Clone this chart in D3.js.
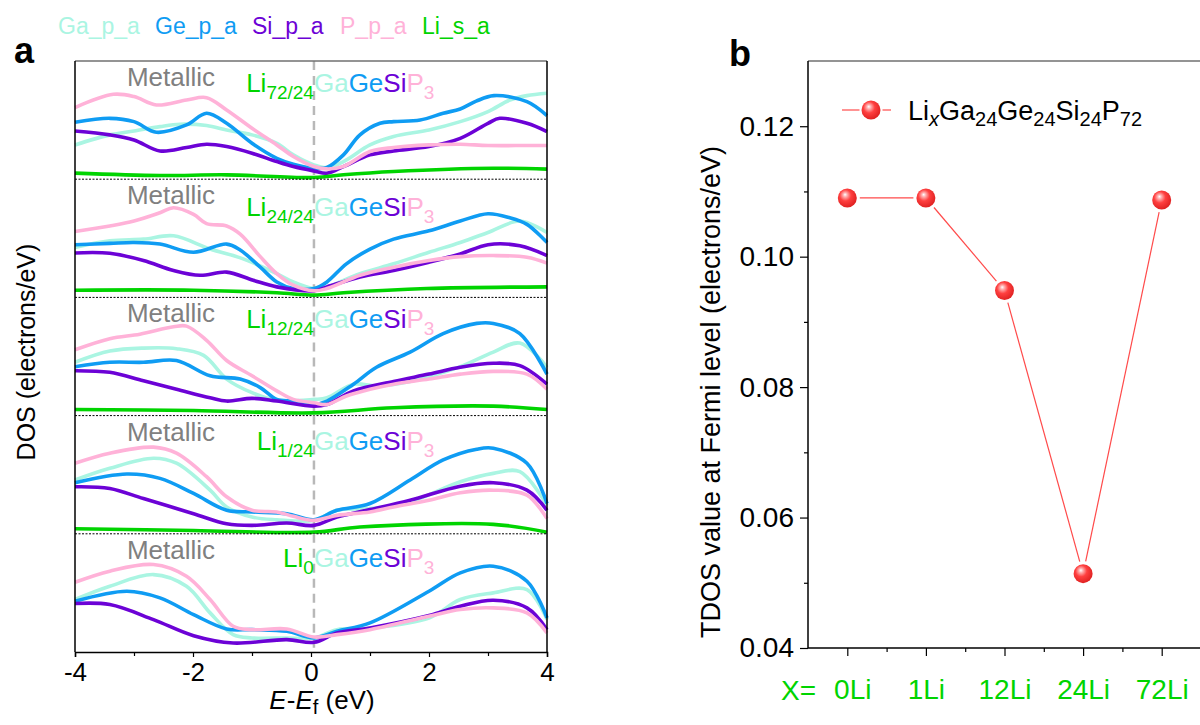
<!DOCTYPE html>
<html><head><meta charset="utf-8">
<script src="https://cdn.jsdelivr.net/npm/d3@7"></script>
<style>body{margin:0;background:#fff}svg{display:block;font-family:"Liberation Sans",Arial,sans-serif}</style>
</head><body><svg id="c" width="1200" height="725"></svg>
<script>
// ---------- Panel a data (E in eV, DOS in arbitrary units per sub-panel) ----------
const seriesNames = ["Ga_p_a","Ge_p_a","Si_p_a","P_p_a","Li_s_a"];
const seriesColors = ["#aaf5e2","#0f9cf3","#6c02d6","#ffb2d8","#00d400"];
const panelSub = ["72/24","24/24","12/24","1/24","0"];
const energyTicks = [-4,-2,0,2,4];

const ga72 = [[-4,2.90],[-3.41,3.75],[-3,4.08],[-2.56,4.45],[-2.22,4.65],[-1.77,4.54],[-1.43,4.17],[-1,3.75],[-0.58,3.04],[-0.3,2.06],[0.05,1.21],[0.27,0.98],[0.55,1.49],[1,2.90],[1.4,3.61],[2,4.17],[2.53,4.87],[3,5.72],[3.37,6.70],[3.66,7.07],[4,7.27]];
const ge72 = [[-4,4.82],[-3.41,5.15],[-3,4.87],[-2.62,3.97],[-2.11,4.59],[-1.77,5.58],[-1.43,4.73],[-1,3.04],[-0.58,1.77],[-0.3,1.27],[0.05,0.93],[0.27,0.99],[0.55,2.06],[0.83,3.75],[1.17,4.73],[1.4,4.87],[1.85,5.01],[2.24,5.58],[2.53,5.94],[2.8,6.6],[3.1,7.07],[3.66,6.56],[4,5.38]];
const si72 = [[-4,4.08],[-3.41,3.75],[-3,3.32],[-2.56,2.39],[-2.11,2.68],[-1.77,2.96],[-1.43,2.76],[-1,2.20],[-0.58,1.49],[-0.3,1.07],[0.05,0.70],[0.27,0.51],[0.55,1.07],[1,2.06],[1.4,2.39],[2,2.76],[2.53,3.46],[3,4.73],[3.2,5.15],[3.66,4.73],[4,4.03]];
const p72 = [[-4,6.06],[-3.35,7.18],[-3,6.99],[-2.62,6.28],[-2.11,6.70],[-1.77,6.90],[-1.43,5.86],[-1,4.31],[-0.58,2.90],[-0.3,1.92],[0.05,1.07],[0.27,0.87],[0.55,1.07],[1,2.34],[1.4,2.68],[2,2.90],[2.53,2.96],[3,2.85],[3.66,2.85],[4,2.85]];
const li72 = [[-4,0.51],[-2.56,0.31],[-1.43,0.37],[0.05,0.14],[0.55,0.37],[1.4,0.65],[3.09,0.93],[4,0.85]];

const ga24 = [[-4,4.23],[-3.41,4.79],[-2.84,4.93],[-2.33,5.21],[-1.71,4.09],[-1.15,3.26],[-0.58,2.01],[-0.3,1.31],[0.05,0.75],[0.27,0.89],[0.83,2.01],[1.4,2.84],[2,3.82],[2.53,4.65],[3,5.49],[3.54,6.46],[4,5.49]];
const ge24 = [[-4,4.46],[-3.41,4.57],[-3,4.65],[-2.56,4.51],[-1.99,3.82],[-1.43,4.51],[-1.2,4.01],[-0.86,2.56],[-0.58,1.31],[-0.3,0.75],[0.05,0.75],[0.27,1.31],[0.6,2.84],[1,4.09],[1.4,4.93],[2,5.63],[2.53,6.46],[3,7.08],[3.37,6.74],[3.66,6.18],[4,4.65]];
const si24 = [[-4,3.76],[-3.41,3.73],[-2.84,3.12],[-2.33,2.28],[-1.88,1.87],[-1.43,2.14],[-0.98,1.45],[-0.58,0.89],[0.05,0.56],[0.27,0.89],[0.83,1.73],[1.4,2.28],[2,2.98],[2.53,3.68],[3,4.46],[3.54,4.37],[4,3.54]];
const p24 = [[-4,5.57],[-3.41,6.04],[-3,6.46],[-2.56,7.16],[-2.33,7.58],[-1.99,7.02],[-1.77,6.24],[-1.43,6.04],[-1.2,5.35],[-0.86,3.45],[-0.58,2.01],[-0.3,1.03],[0.05,0.56],[0.27,0.75],[0.83,1.87],[1.4,2.56],[2,3.12],[2.53,3.45],[3.09,3.54],[3.66,3.40],[4,2.90]];
const li24 = [[-4,0.61],[-1.99,0.61],[-0.58,0.39],[0.05,0.19],[0.55,0.39],[1.96,0.75],[4,0.89]];

const ga12 = [[-4,4.51],[-3.41,5.46],[-2.84,5.71],[-2.28,5.66],[-1.82,5.09],[-1.43,3.09],[-1,1.94],[-0.58,1.29],[0.05,1.37],[0.27,1.51],[0.72,2.66],[1.11,2.51],[1.68,2.89],[2.53,4.14],[3.09,5.37],[3.54,6.14],[4,4.09]];
const ge12 = [[-4,4.14],[-3.41,4.51],[-2.84,4.51],[-2.28,4.66],[-1.71,3.37],[-1.2,3.09],[-0.86,2.37],[-0.58,1.37],[-0.3,1.23],[0.05,0.94],[0.27,1.23],[0.72,2.66],[1.11,4.09],[1.68,5.37],[2.24,6.94],[2.81,7.80],[3.09,7.80],[3.54,6.94],[4,3.51]];
const si12 = [[-4,3.80],[-3.41,3.66],[-2.84,2.94],[-2.28,2.23],[-1.71,1.51],[-1.43,1.23],[-1,1.46],[-0.58,1.23],[0.05,0.80],[0.27,0.94],[0.72,2.09],[1.4,2.89],[2,3.51],[2.53,4.09],[3.09,4.43],[3.54,4.23],[4,2.66]];
const p12 = [[-4,5.57],[-3.41,6.51],[-2.9,6.89],[-2.33,7.51],[-2.11,7.57],[-1.77,6.37],[-1.43,4.66],[-1,3.37],[-0.58,2.09],[-0.3,1.37],[0.05,1.09],[0.27,0.94],[0.6,1.66],[1,2.23],[1.4,2.66],[2,3.09],[2.53,3.51],[3.09,3.74],[3.66,3.51],[4,2.23]];
const li12 = [[-4,0.51],[-1.99,0.43],[0.05,0.23],[1.4,0.66],[3.09,0.80],[4,0.51]];

const ga1 = [[-4,4.55],[-3.41,5.54],[-2.67,6.39],[-2.28,5.97],[-1.71,3.69],[-1.43,2.27],[-1,1.42],[-0.58,1.19],[0.05,1.14],[0.44,1.99],[1,2.13],[1.68,2.70],[2.53,4.40],[3.09,5.11],[3.54,5.26],[4,2.41]];
const ge1 = [[-4,4.32],[-3.12,5.06],[-2.56,4.69],[-1.99,3.41],[-1.43,1.99],[-1,1.85],[-0.41,1.70],[0.05,1.19],[0.44,1.99],[1,2.56],[1.68,4.55],[2.24,6.25],[2.81,7.16],[3.09,7.24],[3.66,5.97],[4,2.56]];
const si1 = [[-4,3.98],[-3.41,3.84],[-2.84,2.98],[-1.99,1.70],[-1.43,0.85],[-1,0.71],[-0.41,0.91],[0.05,0.71],[0.44,1.42],[1,2.05],[1.68,2.84],[2.53,4.03],[3.09,4.32],[3.66,3.69],[4,1.99]];
const p1 = [[-4,5.97],[-3.41,6.82],[-2.67,7.33],[-2.28,6.82],[-1.77,4.83],[-1.43,3.13],[-1,1.99],[-0.58,1.85],[-0.3,1.48],[0.05,1.14],[0.44,1.56],[1,1.85],[1.4,2.27],[2,2.84],[2.53,3.47],[3.09,3.69],[3.66,3.27],[4,1.28]];
const li1 = [[-4,0.43],[-1.99,0.28],[0.05,0.14],[0.83,0.57],[3.09,0.80],[4,0.14]];

const ga0 = [[-4,4.44],[-3.41,5.56],[-2.67,6.55],[-2.11,5.56],[-1.71,3.31],[-1.32,1.47],[-1,1.19],[-0.41,1.19],[0.05,1.19],[0.44,1.89],[1,2.03],[2,2.88],[2.53,4.44],[3.09,5.00],[3.66,5.28],[4,2.74]];
const ge0 = [[-4,4.29],[-3.12,5.14],[-2.56,4.58],[-1.99,3.16],[-1.43,1.95],[-1,1.89],[-0.41,1.75],[0.05,1.19],[0.44,1.75],[1,2.46],[2,5.14],[2.53,6.69],[3.09,7.26],[3.66,5.99],[4,2.88]];
const si0 = [[-4,4.10],[-3.41,4.01],[-2.67,2.74],[-1.99,1.38],[-1.32,0.76],[-0.41,1.05],[0.05,0.82],[0.44,1.61],[1,2.03],[2,3.08],[2.53,3.87],[3.09,4.38],[3.66,3.73],[4,1.89]];
const p0 = [[-4,5.90],[-3.41,6.84],[-2.67,7.40],[-2.11,6.41],[-1.71,4.44],[-1.32,2.18],[-1,1.89],[-0.41,1.95],[0.05,1.27],[0.44,1.47],[1,1.89],[2,3.02],[2.53,3.59],[3.09,3.73],[3.66,3.31],[4,1.61]];

// ---------- Panel b data ----------
const liCounts = ["0Li","1Li","12Li","24Li","72Li"];
const tdosFermi = [0.1090, 0.1090, 0.0948, 0.0514, 0.1087];
const tdosTicks = [0.04,0.06,0.08,0.10,0.12];

const panelSeries = [
  [ga72,ge72,si72,p72,li72],
  [ga24,ge24,si24,p24,li24],
  [ga12,ge12,si12,p12,li12],
  [ga1,ge1,si1,p1,li1],
  [ga0,ge0,si0,p0,null]
];

const svg = d3.select("#c");
const FONT = '"Liberation Sans",Arial,sans-serif';

// ======== Panel a ========
const aL = 75, aR = 547, aT = 61, aB = 652;
const x = d3.scaleLinear().domain([-4,4]).range([aL,aR]);
const bands = d3.scaleBand().domain(d3.range(5)).range([aT,aB]).paddingInner(0).paddingOuter(0);
const ph = bands.bandwidth();

const fermiX = x(0.05);

panelSeries.forEach((ser, i) => {
  const top = bands(i), bot = top + ph;
  const y = d3.scaleLinear().domain([0,10]).range([bot, top]);
  const g = svg.append("g");
  g.append("line").attr("x1",fermiX).attr("x2",fermiX).attr("y1",top).attr("y2",bot)
    .attr("stroke","#b8b8b8").attr("stroke-width",2.5).attr("stroke-dasharray","9,6");
  const line = d3.line().x(d=>x(d[0])).y(d=>y(d[1])).curve(d3.curveCatmullRom.alpha(0.5));
  ser.forEach((s, k) => {
    if (!s) return;
    g.append("path").attr("d", line(s)).attr("fill","none")
      .attr("stroke", seriesColors[k]).attr("stroke-width", 3.6)
      .attr("stroke-linejoin","round").attr("stroke-linecap","butt");
  });
  if (i < 4) {
    svg.append("line").attr("x1",aL).attr("x2",aR).attr("y1",bot).attr("y2",bot)
      .attr("stroke","#000").attr("stroke-width",1).attr("stroke-dasharray","2,1.5");
  }
  g.append("text").attr("x",aL+96).attr("y",top+25).attr("text-anchor","middle")
    .attr("font-size",26).attr("fill","#808080").text("Metallic");
  const fy = top + (i===0?31: i===1?37: i===2?31: i===3?34: 33);
  const liT = g.append("text").attr("x",fermiX).attr("y",fy).attr("text-anchor","end")
    .attr("font-size",26).attr("fill","#00d400");
  liT.append("tspan").text("Li");
  liT.append("tspan").attr("font-size",19).attr("dy",7).text(panelSub[i]);
  const fT = g.append("text").attr("x",fermiX).attr("y",fy).attr("font-size",26);
  fT.append("tspan").attr("fill",seriesColors[0]).text("Ga");
  fT.append("tspan").attr("fill",seriesColors[1]).text("Ge");
  fT.append("tspan").attr("fill",seriesColors[2]).text("Si");
  fT.append("tspan").attr("fill",seriesColors[3]).text("P");
  fT.append("tspan").attr("fill",seriesColors[3]).attr("font-size",19).attr("dy",7).text("3");
});

svg.append("line").attr("x1",aL).attr("x2",aR).attr("y1",aT).attr("y2",aT).attr("stroke","#707070").attr("stroke-width",1.5);
svg.append("line").attr("x1",aL).attr("x2",aL).attr("y1",aT).attr("y2",aB).attr("stroke","#000").attr("stroke-width",1.5);
svg.append("line").attr("x1",aR).attr("x2",aR).attr("y1",aT).attr("y2",aB).attr("stroke","#000").attr("stroke-width",1.5);
const xAxis = svg.append("g").attr("transform",`translate(0,${aB})`)
  .call(d3.axisBottom(x).tickValues(energyTicks).tickSize(5).tickPadding(6).tickFormat(d3.format("d")));
xAxis.select(".domain").attr("stroke","#000").attr("stroke-width",1.5);
xAxis.selectAll(".tick line").attr("stroke","#000").attr("stroke-width",1.2);
xAxis.selectAll("text").attr("font-size",26).attr("font-family",FONT).attr("fill","#000").text(d=>d<0?"-"+Math.abs(d):d);
svg.append("g").attr("transform",`translate(0,${aB})`)
  .call(d3.axisBottom(x).tickValues([-3,-1,1,3]).tickSize(4).tickFormat(""))
  .call(g=>g.select(".domain").remove()).selectAll("line").attr("stroke","#000").attr("stroke-width",1.2);

const xl = svg.append("text").attr("x",322).attr("y",709).attr("text-anchor","middle").attr("font-size",26);
xl.append("tspan").attr("font-style","italic").text("E");
xl.append("tspan").text("-");
xl.append("tspan").attr("font-style","italic").text("E");
xl.append("tspan").attr("font-size",20).attr("dy",5).text("f");
xl.append("tspan").attr("dy",-5).text(" (eV)");
svg.append("text").attr("transform","translate(35,352) rotate(-90)").attr("text-anchor","middle")
  .attr("font-size",25).text("DOS (electrons/eV)");
svg.append("text").attr("x",14).attr("y",63).attr("font-size",36).attr("font-weight","bold").text("a");
const legX = [58,155,252,340,422];
seriesNames.forEach((n,k)=>{
  svg.append("text").attr("x",legX[k]).attr("y",34).attr("font-size",23).attr("fill",seriesColors[k]).text(n);
});

// ======== Panel b ========
const bL = 808, bR = 1201, bT = 61, bB = 648;
const xb = d3.scaleLinear().domain([-0.5,4.5]).range([bL,bR]);
const yb = d3.scaleLinear().domain([0.04,0.13]).range([bB,bT]);

const defs = svg.append("defs");
const rg = defs.append("radialGradient").attr("id","ball").attr("cx","0.42").attr("cy","0.4").attr("r","0.6").attr("fx","0.38").attr("fy","0.32");
rg.append("stop").attr("offset","0").attr("stop-color","#ffffff");
rg.append("stop").attr("offset","0.18").attr("stop-color","#ffb0b0");
rg.append("stop").attr("offset","0.5").attr("stop-color","#ff4040");
rg.append("stop").attr("offset","1").attr("stop-color","#e02222");

svg.append("line").attr("x1",bL).attr("x2",1200).attr("y1",bT).attr("y2",bT).attr("stroke","#707070").attr("stroke-width",1.5);
const yAx = svg.append("g").attr("transform",`translate(${bL},0)`)
  .call(d3.axisLeft(yb).tickValues(tdosTicks).tickSize(8).tickPadding(6).tickFormat(d3.format(".2f")));
yAx.select(".domain").attr("stroke","#000").attr("stroke-width",1.5).attr("d",`M0,${bT}V${bB}`);
yAx.selectAll(".tick line").attr("stroke","#000").attr("stroke-width",1.2);
yAx.selectAll("text").attr("font-size",28).attr("font-family",FONT).attr("fill","#000");
svg.append("g").attr("transform",`translate(${bL},0)`)
  .call(d3.axisLeft(yb).tickValues([0.05,0.07,0.09,0.11]).tickSize(4).tickFormat(""))
  .call(g=>g.select(".domain").remove()).selectAll("line").attr("stroke","#000").attr("stroke-width",1.2);

const xAxB = svg.append("g").attr("transform",`translate(0,${bB})`)
  .call(d3.axisBottom(xb).tickValues(d3.range(5)).tickSize(8).tickPadding(23).tickFormat(i=>liCounts[i]));
xAxB.select(".domain").attr("stroke","#000").attr("stroke-width",1.5).attr("d",`M${bL},0H1200`);
xAxB.selectAll(".tick line").attr("stroke","#000").attr("stroke-width",1.2);
xAxB.selectAll("text").attr("font-size",28).attr("font-family",FONT).attr("fill","#00d400")
  .attr("dx",(d,i)=>i===0?5:0);
svg.append("g").attr("transform",`translate(0,${bB})`)
  .call(d3.axisBottom(xb).tickValues([0.5,1.5,2.5,3.5]).tickSize(4).tickFormat(""))
  .call(g=>g.select(".domain").remove()).selectAll("line").attr("stroke","#000").attr("stroke-width",1.2);
svg.append("text").attr("x",781).attr("y",700).attr("font-size",28).attr("fill","#00d400").text("X=");

const R = 9.5, gap = 3;
const pts = tdosFermi.map((v,i)=>[xb(i), yb(v)]);
for (let i=0;i<pts.length-1;i++){
  const [x1,y1]=pts[i],[x2,y2]=pts[i+1];
  const L = Math.hypot(x2-x1,y2-y1), ux=(x2-x1)/L, uy=(y2-y1)/L, o=R+gap;
  svg.append("line").attr("x1",x1+ux*o).attr("y1",y1+uy*o).attr("x2",x2-ux*o).attr("y2",y2-uy*o)
    .attr("stroke","#ff4a4a").attr("stroke-width",1.2);
}
svg.selectAll("circle.pt").data(tdosFermi).join("circle").attr("class","pt")
  .attr("cx",(d,i)=>xb(i)).attr("cy",d=>yb(d)).attr("r",R).attr("fill","url(#ball)");

const ly = 110, lx = 871;
svg.append("line").attr("x1",842).attr("x2",lx-R-2).attr("y1",ly).attr("y2",ly).attr("stroke","#ff4a4a").attr("stroke-width",1.2);
svg.append("line").attr("x1",lx+R+2).attr("x2",891).attr("y1",ly).attr("y2",ly).attr("stroke","#ff4a4a").attr("stroke-width",1.2);
svg.append("circle").attr("cx",lx).attr("cy",ly).attr("r",R).attr("fill","url(#ball)");
const lt = svg.append("text").attr("x",908).attr("y",120).attr("font-size",27);
lt.append("tspan").text("Li");
lt.append("tspan").attr("font-size",20).attr("font-style","italic").attr("dy",6).text("x");
lt.append("tspan").attr("dy",-6).text("Ga");
lt.append("tspan").attr("font-size",20).attr("dy",6).text("24");
lt.append("tspan").attr("dy",-6).text("Ge");
lt.append("tspan").attr("font-size",20).attr("dy",6).text("24");
lt.append("tspan").attr("dy",-6).text("Si");
lt.append("tspan").attr("font-size",20).attr("dy",6).text("24");
lt.append("tspan").attr("dy",-6).text("P");
lt.append("tspan").attr("font-size",20).attr("dy",6).text("72");

svg.append("text").attr("transform","translate(720,392) rotate(-90)").attr("text-anchor","middle")
  .attr("font-size",27).text("TDOS value at Fermi level (electrons/eV)");
svg.append("text").attr("x",729).attr("y",66).attr("font-size",36).attr("font-weight","bold").text("b");
</script></body></html>
